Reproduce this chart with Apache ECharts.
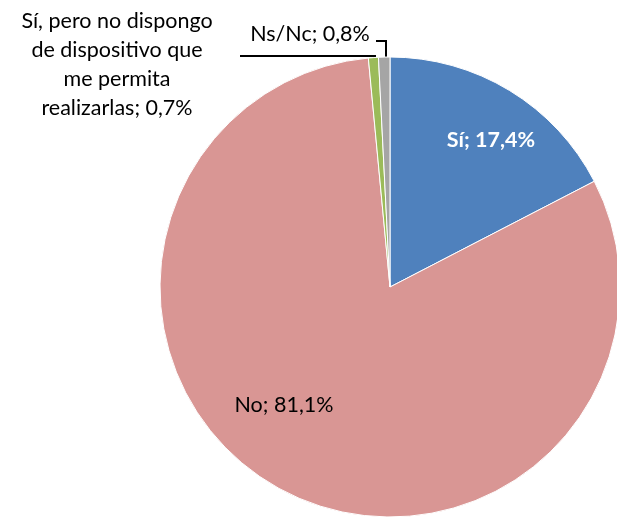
<!DOCTYPE html>
<html>
<head>
<meta charset="utf-8">
<script src="https://cdn.jsdelivr.net/npm/echarts@6/dist/echarts.min.js"></script>
<style>
  html, body { margin: 0; padding: 0; background: #fff; }
  #chart { width: 617px; height: 517px; }
</style>
</head>
<body>
<div id="chart"></div>
<script>
// datos
var categories = ['Sí', 'No', 'Sí, pero no dispongo de dispositivo que me permita realizarlas', 'Ns/Nc'];
var labelTexts = ['Sí', 'No', 'Sí, pero no dispongo\nde dispositivo que\nme permita\nrealizarlas', 'Ns/Nc'];
var values = [17.4, 81.1, 0.7, 0.8];
var colors = ['#4f81bd', '#d99694', '#9bbb59', '#a5a5a5'];

var chart = echarts.init(document.getElementById('chart'));

var pieData = categories.map(function (c, i) {
  return {
    name: c,
    value: values[i],
    itemStyle: { color: colors[i] }
  };
});

// posiciones de las etiquetas (como en el original)
var labelPos = [
  { x: 491, y: 140 },
  { x: 284, y: 405 },
  { x: 117, y: 65 },
  { x: 310, y: 34 }
];
var linePoints = {
  2: [[240, 56], [375, 56], [375, 58]],
  3: [[376, 41], [386, 41], [386, 57]]
};

var option = {
  animation: false,
  backgroundColor: '#ffffff',
  series: [
    {
      type: 'pie',
      center: [390, 287],
      radius: 230,
      startAngle: 90,
      clockwise: true,
      data: pieData,
      itemStyle: {
        borderColor: '#ffffff',
        borderWidth: 1
      },
      label: {
        show: true,
        fontFamily: 'Lato',
        fontSize: 21.5,
        lineHeight: 29,
        color: '#000',
        overflow: 'none',
        formatter: function (p) {
          return labelTexts[p.dataIndex] + '; ' + String(p.value).replace('.', ',') + '%';
        }
      },
      labelLine: {
        show: true,
        lineStyle: { color: '#000', width: 2 }
      },
      labelLayout: function (params) {
        var i = params.dataIndex;
        var res = {
          x: labelPos[i].x,
          y: labelPos[i].y,
          align: 'center',
          verticalAlign: 'middle'
        };
        if (linePoints[i]) res.labelLinePoints = linePoints[i];
        return res;
      },
      emphasis: { disabled: true }
    }
  ]
};

// etiqueta interior en blanco y negrita para "Sí"
option.series[0].data[0].label = { color: '#fff', fontWeight: 'bold', position: 'outside' };
option.series[0].data[0].labelLine = { show: false };
option.series[0].data[1].labelLine = { show: false };

chart.setOption(option);
</script>
</body>
</html>
